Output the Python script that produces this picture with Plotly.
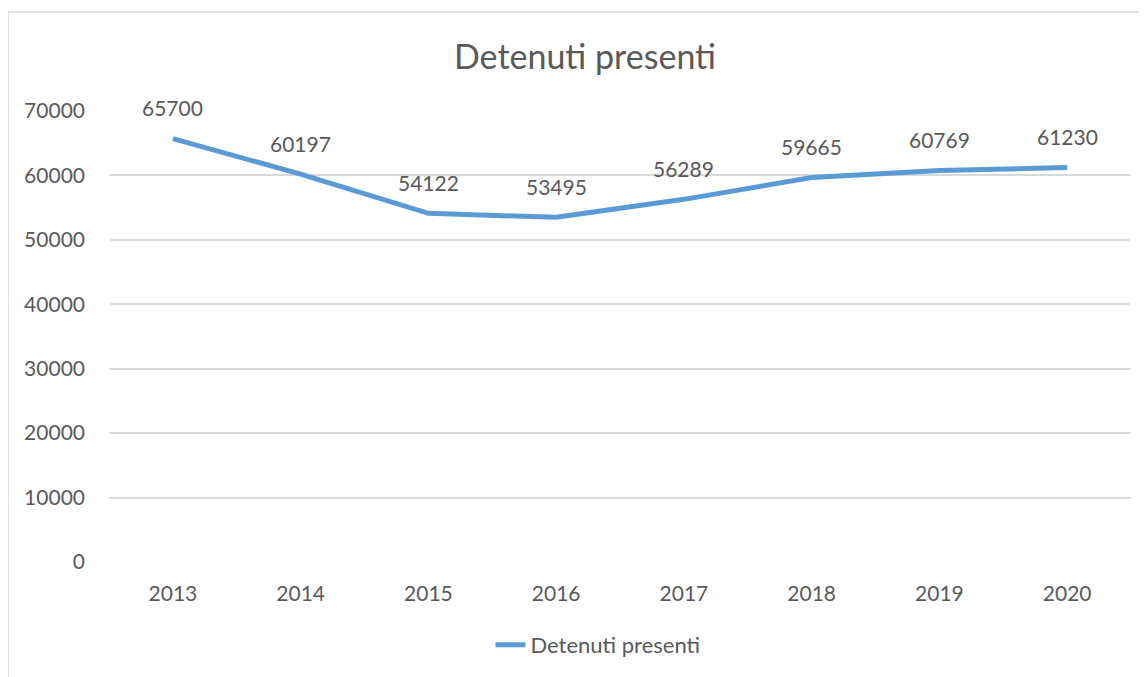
import plotly.graph_objects as go

anni = ["2013", "2014", "2015", "2016", "2017", "2018", "2019", "2020"]
detenuti = [65700, 60197, 54122, 53495, 56289, 59665, 60769, 61230]
y_ticks = [0, 10000, 20000, 30000, 40000, 50000, 60000, 70000]

font = "Lato, 'Open Sans', sans-serif"
grey = "#595959"

fig = go.Figure()
fig.add_trace(go.Scatter(x=anni, y=detenuti, mode="lines", name="Detenuti presenti",
                         line=dict(color="#5b9bd5", width=5)))

# data labels above each point (x as category index)
for i, v in enumerate(detenuti):
    fig.add_annotation(x=i, y=v, text=str(v), showarrow=False, yshift=31,
                       font=dict(size=21, color=grey, family=font))

# page has an 8px body margin, so figure coords are shifted by -8
L, T, PW, PH = 101, 103, 1022, 451
R = 1147 - L - PW
B = 677 - T - PH

# chart border
fig.add_shape(type="rect", xref="paper", yref="paper",
              x0=(0 - L) / PW, x1=(1170 - L) / PW,
              y0=-(700 - T - PH) / PH, y1=(T + PH - 4) / PH,
              line=dict(color="#d9d9d9", width=1.5))

fig.update_layout(
    width=1147, height=677,
    margin=dict(l=L, r=R, t=T, b=B, autoexpand=False),
    paper_bgcolor="white", plot_bgcolor="white",
    title=dict(text="Detenuti presenti", x=577 / 1147, xanchor="center",
               y=1 - 49 / 677, yanchor="middle",
               font=dict(size=34, color=grey, family=font)),
    font=dict(family=font, color=grey, size=21),
    xaxis=dict(type="category", range=[-0.5, 7.5], showgrid=False, showline=False,
               ticks="", tickfont=dict(size=21, color=grey), ticklabelstandoff=17),
    yaxis=dict(range=[0, 70000], tickvals=y_ticks, tickformat="d", showgrid=True,
               gridcolor="#d9d9d9", gridwidth=1.5, zeroline=False, showline=False,
               ticks="", tickfont=dict(size=21, color=grey), ticklabelstandoff=23),
    showlegend=True,
    legend=dict(orientation="h", x=(590 - L) / PW, xanchor="center",
                y=-(637 - T - PH) / PH, yanchor="middle",
                font=dict(size=22, color=grey, family=font)),
)

fig.write_html("out.html")
